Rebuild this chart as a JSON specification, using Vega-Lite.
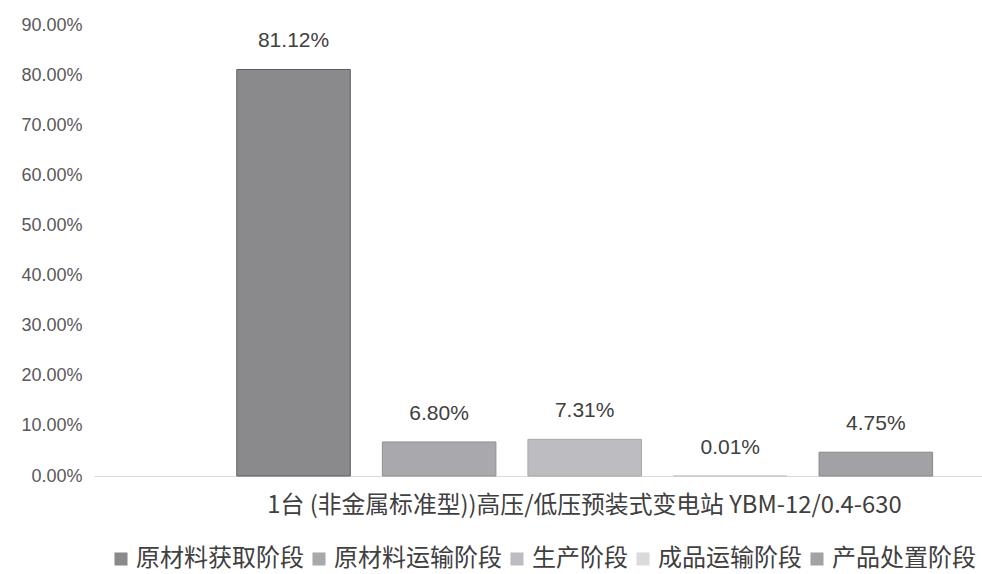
{
  "$schema": "https://vega.github.io/schema/vega-lite/v6.json",
  "width": 888,
  "height": 451,
  "autosize": "none",
  "padding": {"left": 94, "top": 25, "right": 0, "bottom": 98},
  "background": "white",
  "config": {
    "view": {"stroke": null},
    "font": "Noto Sans CJK SC"
  },
  "data": {
    "values": [
      {"category": "1台 (非金属标准型))高压/低压预装式变电站 YBM-12/0.4-630", "stage": "原材料获取阶段", "value": 0.8112, "label": "81.12%"},
      {"category": "1台 (非金属标准型))高压/低压预装式变电站 YBM-12/0.4-630", "stage": "原材料运输阶段", "value": 0.068, "label": "6.80%"},
      {"category": "1台 (非金属标准型))高压/低压预装式变电站 YBM-12/0.4-630", "stage": "生产阶段", "value": 0.0731, "label": "7.31%"},
      {"category": "1台 (非金属标准型))高压/低压预装式变电站 YBM-12/0.4-630", "stage": "成品运输阶段", "value": 0.0001, "label": "0.01%"},
      {"category": "1台 (非金属标准型))高压/低压预装式变电站 YBM-12/0.4-630", "stage": "产品处置阶段", "value": 0.0475, "label": "4.75%"}
    ]
  },
  "encoding": {
    "x": {
      "field": "stage",
      "type": "nominal",
      "sort": ["原材料获取阶段", "原材料运输阶段", "生产阶段", "成品运输阶段", "产品处置阶段"],
      "scale": {"paddingInner": 0.22, "paddingOuter": 0.66, "align": 0.743},
      "axis": {
        "labels": false,
        "ticks": false,
        "domainColor": "#d9d9d9",
        "domainWidth": 1,
        "title": "1台 (非金属标准型))高压/低压预装式变电站 YBM-12/0.4-630",
        "titleFont": "Noto Sans CJK SC",
        "titleFontSize": 23.8,
        "titleFontWeight": "normal",
        "titleColor": "#404040",
        "titlePadding": 17,
        "titleX": 490
      }
    },
    "y": {
      "field": "value",
      "type": "quantitative",
      "scale": {"domain": [0, 0.9], "nice": false},
      "axis": {
        "values": [0, 0.1, 0.2, 0.3, 0.4, 0.5, 0.6, 0.7, 0.8, 0.9],
        "format": ".2%",
        "title": null,
        "domain": false,
        "ticks": false,
        "grid": false,
        "labelFont": "Liberation Sans",
        "labelFontSize": 18,
        "labelColor": "#595959",
        "labelPadding": 12
      }
    }
  },
  "layer": [
    {
      "mark": {"type": "bar", "strokeWidth": 1},
      "encoding": {
        "color": {
          "field": "stage",
          "type": "nominal",
          "sort": ["原材料获取阶段", "原材料运输阶段", "生产阶段", "成品运输阶段", "产品处置阶段"],
          "scale": {
            "domain": ["原材料获取阶段", "原材料运输阶段", "生产阶段", "成品运输阶段", "产品处置阶段"],
            "range": ["#8a8a8c", "#a9a9ad", "#bdbdc1", "#dadadc", "#a2a2a6"]
          },
          "legend": {
            "orient": "none",
            "legendX": 15,
            "legendY": 522,
            "direction": "horizontal",
            "title": null,
            "symbolType": "square",
            "symbolSize": 170,
            "symbolStrokeWidth": 0,
            "labelFont": "Noto Sans CJK SC",
            "labelFontSize": 24,
            "labelColor": "#404040",
            "labelLimit": 300,
            "labelOffset": 3,
            "columnPadding": 3
          }
        },
        "stroke": {
          "field": "stage",
          "type": "nominal",
          "scale": {
            "domain": ["原材料获取阶段", "原材料运输阶段", "生产阶段", "成品运输阶段", "产品处置阶段"],
            "range": ["#5e5e60", "#909094", "#a8a8ac", "#c8c8ca", "#88888c"]
          },
          "legend": null
        }
      }
    },
    {
      "mark": {"type": "text", "baseline": "bottom", "dy": -18, "font": "Liberation Sans", "fontSize": 21, "color": "#404040"},
      "encoding": {
        "text": {"field": "label", "type": "nominal"}
      }
    }
  ]
}
